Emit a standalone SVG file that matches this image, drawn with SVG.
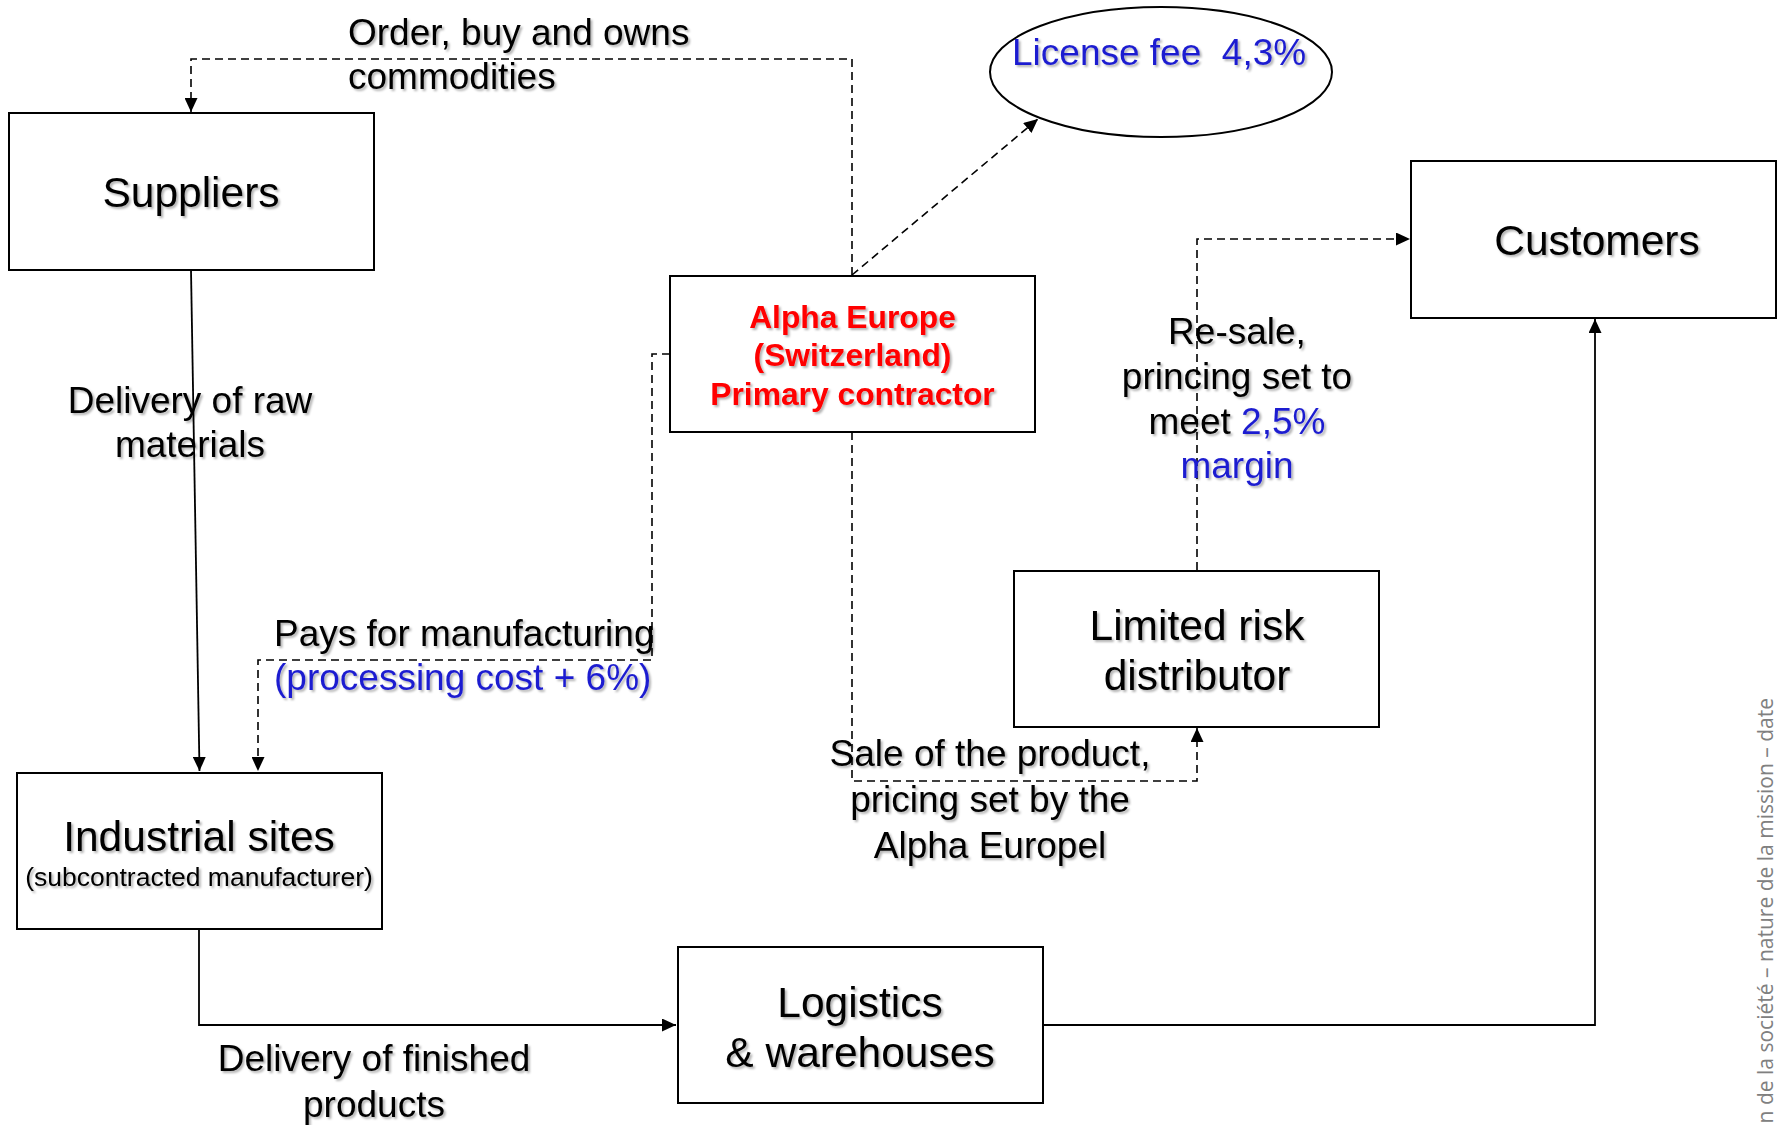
<svg xmlns="http://www.w3.org/2000/svg" width="1777" height="1125" viewBox="0 0 1777 1125">
<style>
  .box { fill: #fff; stroke: #000; stroke-width: 2; }
  .node { font-family: "Liberation Sans", Arial, sans-serif; font-size: 42.5px; fill: #000; text-anchor: middle; filter: url(#sh); }
  .sub { font-family: "Liberation Sans", Arial, sans-serif; font-size: 26.5px; fill: #000; text-anchor: middle; filter: url(#sh); }
  .lbl { font-family: "Liberation Sans", Arial, sans-serif; font-size: 37px; fill: #000; filter: url(#sh); white-space: pre; }
  .blue { fill: #1f1fd0; }
  .red { font-family: "Liberation Sans", Arial, sans-serif; font-size: 31.8px; font-weight: bold; fill: #ff0000; text-anchor: middle; filter: url(#sh); }
  .dash { fill: none; stroke: #000; stroke-width: 1.6; stroke-dasharray: 8 5; }
  .solid { fill: none; stroke: #000; stroke-width: 1.8; }
  .foot { font-family: "Open Sans", sans-serif; font-size: 21px; fill: #808080; }
</style>
<defs>
  <marker id="arr" markerUnits="userSpaceOnUse" markerWidth="15" markerHeight="13" refX="14" refY="6.5" orient="auto">
    <path d="M0,0 L14,6.5 L0,13 z" fill="#000"/>
  </marker>
  <filter id="sh" x="-5%" y="-20%" width="110%" height="150%">
    <feDropShadow dx="2" dy="2" stdDeviation="1.2" flood-color="#000" flood-opacity="0.3"/>
  </filter>
</defs>
<rect width="1777" height="1125" fill="#fff"/>

<g id="connectors">
  <path class="dash" d="M852,275 V59 H191 V112" marker-end="url(#arr)"/>
  <path class="dash" d="M852,275 L1038,119" marker-end="url(#arr)"/>
  <path class="dash" d="M670,354 H652 V660 H258 V771" marker-end="url(#arr)"/>
  <path class="dash" d="M852,432 V781 H1197 V728" marker-end="url(#arr)"/>
  <path class="dash" d="M1197,570 V239 H1410" marker-end="url(#arr)"/>
  <path class="solid" d="M191,270 L199.5,771" marker-end="url(#arr)"/>
  <path class="solid" d="M199,929 V1025 H676" marker-end="url(#arr)"/>
  <path class="solid" d="M1043,1025 H1595 V319" marker-end="url(#arr)"/>
</g>

<g id="suppliers">
  <rect class="box" x="9" y="113" width="365" height="157"/>
  <text class="node" x="191" y="207">Suppliers</text>
</g>

<g id="license-fee">
  <ellipse cx="1161" cy="72" rx="171" ry="65" fill="#fff" stroke="#000" stroke-width="2"/>
  <text class="lbl blue" x="1012" y="65">License fee&#160; 4,3%</text>
</g>

<g id="customers">
  <rect class="box" x="1411" y="161" width="365" height="157"/>
  <text class="node" x="1597" y="255">Customers</text>
</g>

<g id="alpha-europe">
  <rect class="box" x="670" y="276" width="365" height="156"/>
  <text class="red" x="852.5" y="328">Alpha Europe</text>
  <text class="red" x="852.5" y="366">(Switzerland)</text>
  <text class="red" x="852.5" y="405">Primary contractor</text>
</g>

<g id="limited-risk-distributor">
  <rect class="box" x="1014" y="571" width="365" height="156"/>
  <text class="node" x="1197" y="640">Limited risk</text>
  <text class="node" x="1197" y="690">distributor</text>
</g>

<g id="industrial-sites">
  <rect class="box" x="17" y="773" width="365" height="156"/>
  <text class="node" x="199" y="851">Industrial sites</text>
  <text class="sub" x="199" y="886">(subcontracted manufacturer)</text>
</g>

<g id="logistics">
  <rect class="box" x="678" y="947" width="365" height="156"/>
  <text class="node" x="860" y="1017">Logistics</text>
  <text class="node" x="860" y="1067">&amp; warehouses</text>
</g>

<g id="labels">
  <text class="lbl" x="348" y="45">Order, buy and owns</text>
  <text class="lbl" x="348" y="89">commodities</text>
  <text class="lbl" x="190" y="413" text-anchor="middle">Delivery of raw</text>
  <text class="lbl" x="190" y="457" text-anchor="middle">materials</text>
  <text class="lbl" x="274" y="646">Pays for manufacturing</text>
  <text class="lbl blue" x="274" y="690">(processing cost + 6%)</text>
  <text class="lbl" x="1237" y="344" text-anchor="middle">Re-sale,</text>
  <text class="lbl" x="1237" y="389" text-anchor="middle">princing set to</text>
  <text class="lbl" x="1237" y="434" text-anchor="middle">meet <tspan class="blue">2,5%</tspan></text>
  <text class="lbl blue" x="1237" y="478" text-anchor="middle">margin</text>
  <text class="lbl" x="990" y="766" text-anchor="middle">Sale of the product,</text>
  <text class="lbl" x="990" y="812" text-anchor="middle">pricing set by the</text>
  <text class="lbl" x="990" y="858" text-anchor="middle">Alpha Europel</text>
  <text class="lbl" x="374" y="1071" text-anchor="middle">Delivery of finished</text>
  <text class="lbl" x="374" y="1117" text-anchor="middle">products</text>
</g>

<text class="foot" x="1773" y="698" text-anchor="end" transform="rotate(-90 1773 698)">n de la société – nature de la mission – date</text>
</svg>
